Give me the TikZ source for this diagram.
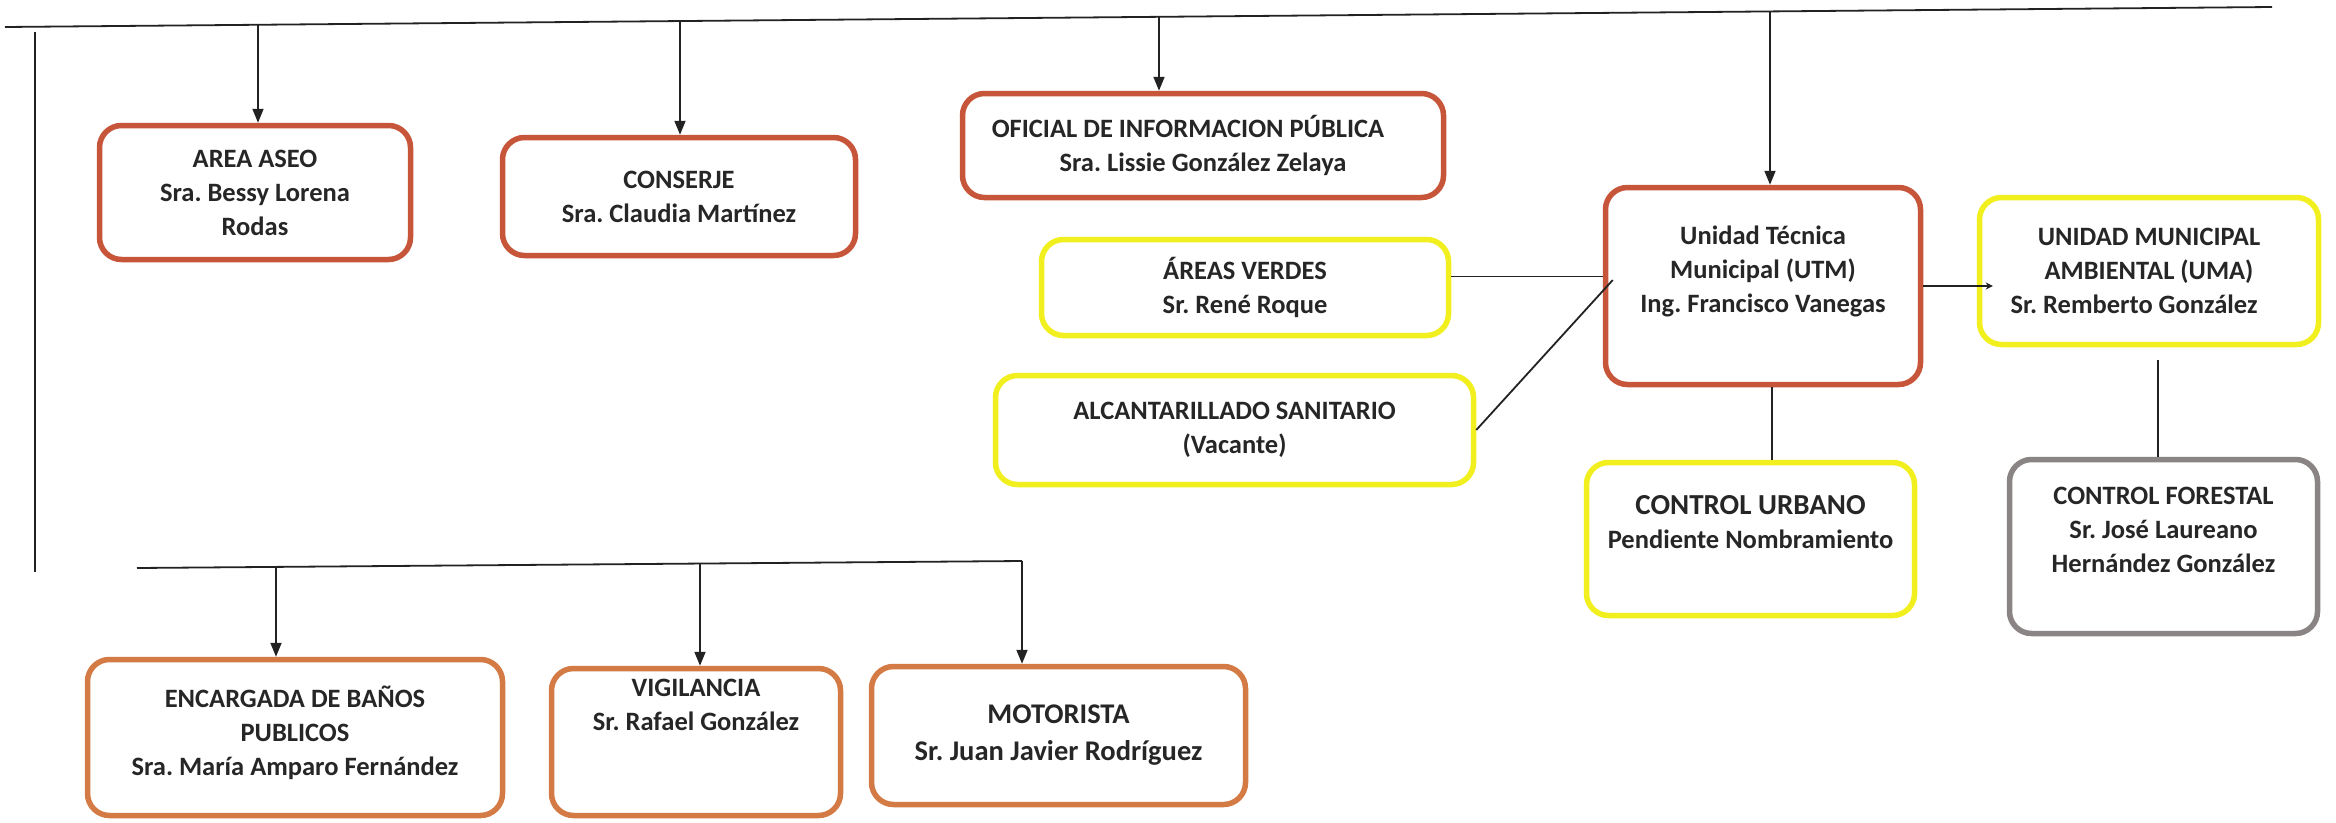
\documentclass[tikz,border=0pt]{standalone}
\usepackage{fontspec}
\setmainfont{Carlito}
\usetikzlibrary{arrows.meta}
\frenchspacing
\definecolor{redB}{HTML}{C7553A}
\definecolor{orB}{HTML}{D47A45}
\definecolor{yelB}{HTML}{F2EF1E}
\definecolor{grayB}{HTML}{8A8484}
\definecolor{txt}{HTML}{262626}
\definecolor{lc}{HTML}{222222}
\tikzset{
  box/.style={draw, rounded corners=22pt, line width=5.5pt, fill=white, align=center,
    inner sep=0pt, text=txt, font=\bfseries\fontsize{26.5pt}{34pt}\selectfont},
  redbox/.style={draw=redB},
  orbox/.style={draw=orB},
  yelbox/.style={draw=yelB},
  graybox/.style={draw=grayB},
  conn/.style={draw=lc, line width=1.8pt},
  arr/.style={conn, -{Triangle[width=11pt,length=14pt]}},
  smallarr/.style={draw=lc, line width=2.5pt, -{Stealth[width=7pt,length=7pt]}}
}
\begin{document}
\begin{tikzpicture}[x=1pt,y=-1pt]
\useasboundingbox[fill=white] (0,0) rectangle (2336,822);

% boxes
\node[box, redbox, minimum width=311pt, minimum height=134pt] (aseo) at (255,192.5)
  {AREA ASEO\\Sra. Bessy Lorena\\Rodas};
\node[box, redbox, minimum width=353pt, minimum height=118pt] (conserje) at (679,196.5)
  {CONSERJE\\Sra. Claudia Martínez};
\node[box, redbox, minimum width=481pt, minimum height=104pt] (oficial) at (1203,145.5)
  {OFICIAL DE INFORMACION PÚBLICA\hspace*{30pt}\\Sra. Lissie González Zelaya};
\node[box, yelbox, minimum width=407pt, minimum height=96pt] (verdes) at (1245,287.5)
  {ÁREAS VERDES\\Sr. René Roque};
\node[box, yelbox, minimum width=478pt, minimum height=109pt] (alcant) at (1234.5,430)
  {ALCANTARILLADO SANITARIO\\(Vacante)};
\node[box, redbox, minimum width=315pt, minimum height=197pt] (utm) at (1763,286)
  {Unidad Técnica\\Municipal (UTM)\\Ing. Francisco Vanegas\\\mbox{}};
\node[box, yelbox, minimum width=339pt, minimum height=147pt] (uma) at (2149,271)
  {UNIDAD MUNICIPAL\\AMBIENTAL (UMA)\\Sr. Remberto González\hspace*{30pt}};
\node[box, yelbox, minimum width=328pt, minimum height=153pt] (urbano) at (1750.5,539)
  {{\fontsize{29pt}{36pt}\selectfont CONTROL URBANO}\\Pendiente Nombramiento\\\mbox{}};
\node[box, graybox, minimum width=308pt, minimum height=174pt] (forestal) at (2163.5,546.5)
  {CONTROL FORESTAL\\Sr. José Laureano\\Hernández González\\\mbox{}};
\node[box, orbox, minimum width=415pt, minimum height=156pt] (banos) at (295,737.5)
  {ENCARGADA DE BAÑOS\\PUBLICOS\\Sra. María Amparo Fernández\\[-20pt]\mbox{}};
\node[box, orbox, minimum width=289pt, minimum height=147pt] (vigil) at (696,742)
  {VIGILANCIA\\Sr. Rafael González\\[40pt]\mbox{}};
\node[box, orbox, minimum width=374pt, minimum height=138pt,
  font=\bfseries\fontsize{28.5pt}{37pt}\selectfont] (motor) at (1058.5,735.5)
  {MOTORISTA\\Sr. Juan Javier Rodríguez};

% top bar
\coordinate (TL) at (5,27);
\coordinate (TR) at (2272,7);
\draw[conn] (TL) -- (TR);
\coordinate (t1) at (258,24.8);
\coordinate (t2) at (680,21);
\coordinate (t3) at (1159,16.8);
\coordinate (t4) at (1770,11.4);
\draw[arr] (t1) -- (t1 |- aseo.north);
\draw[arr] (t2) -- (t2 |- conserje.north);
\draw[arr] (t3) -- (t3 |- oficial.north);
\draw[arr] (t4) -- (t4 |- utm.north);

% left vertical
\coordinate (L1) at (35,32);
\coordinate (L2) at (35,572);
\draw[conn] (L1) -- (L2);

% bottom bar
\coordinate (B1) at (137,568);
\coordinate (B2) at (1022,561);
\draw[conn] (B1) -- (B2);
\coordinate (b1) at (276,567.6);
\coordinate (b2) at (700,564.3);
\draw[arr] (b1) -- (b1 |- banos.north);
\draw[arr] (b2) -- (b2 |- vigil.north);
\draw[arr] (B2) -- (B2 |- motor.north);

% UTM links
\draw[conn] ([yshift=11pt]verdes.east) -- ([yshift=11pt]verdes.east -| utm.west);
\draw[conn] (alcant.east) -- ([xshift=10pt,yshift=6pt]utm.west);
\draw[smallarr] (utm.east) -- ([xshift=16pt]utm.east -| uma.west);
\draw[conn] ([xshift=9pt]utm.south) -- ([xshift=9pt]utm.south |- urbano.north);
\draw[conn] ([xshift=9pt,yshift=-13pt]uma.south) -- ([xshift=9pt]uma.south |- forestal.north);
\end{tikzpicture}
\end{document}
